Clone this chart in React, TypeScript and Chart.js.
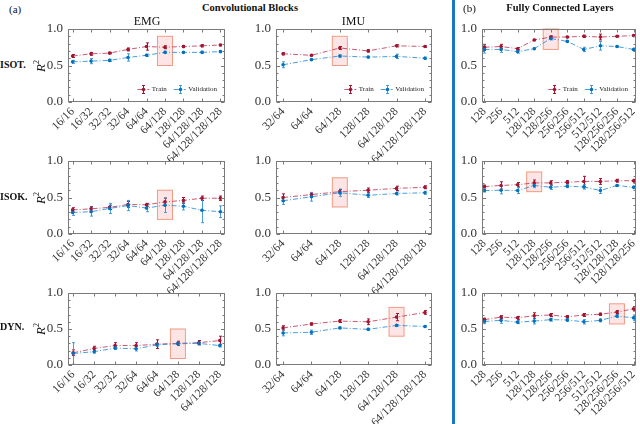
import React, { useEffect, useRef } from 'react';
import { Chart, registerables } from 'chart.js';
Chart.register(...registerables);

// ---------- categories ----------
const EMG_CATS_9 = ['16/16', '16/32', '32/32', '32/64', '64/64', '64/128', '128/128', '64/128/128', '64/128/128/128'];
const EMG_CATS_8 = ['16/16', '16/32', '32/32', '32/64', '64/64', '64/128', '128/128', '64/128/128'];
const IMU_CATS = ['32/64', '64/64', '64/128', '128/128', '64/128/128', '64/128/128/128'];
const FC_CATS_A = ['128', '256', '512', '128/128', '128/256', '256/256', '256/512', '512/512', '128/256/256', '128/256/512'];
const FC_CATS_B = ['128', '256', '512', '128/128', '128/256', '256/256', '256/512', '512/512', '128/128/128', '128/128/256'];
const Y_TICKS = [0, 0.5, 1];

// ---------- ISOT ----------
const emgIsotTrain = [0.63, 0.66, 0.67, 0.72, 0.76, 0.75, 0.76, 0.77, 0.78];
const emgIsotTrainErr = [0.02, 0.02, 0.01, 0.02, 0.05, 0.02, 0.015, 0.015, 0.01];
const emgIsotVal = [0.55, 0.56, 0.57, 0.61, 0.64, 0.68, 0.68, 0.68, 0.69];
const emgIsotValErr = [0.02, 0.035, 0.015, 0.05, 0.015, 0.015, 0.01, 0.015, 0.01];
const imuIsotTrain = [0.66, 0.64, 0.74, 0.70, 0.77, 0.76];
const imuIsotTrainErr = [0.015, 0.01, 0.02, 0.015, 0.015, 0.01];
const imuIsotVal = [0.51, 0.58, 0.63, 0.615, 0.625, 0.60];
const imuIsotValErr = [0.04, 0.01, 0.015, 0.01, 0.03, 0.015];
const fcIsotTrain = [0.75, 0.76, 0.73, 0.85, 0.89, 0.89, 0.90, 0.89, 0.90, 0.91];
const fcIsotTrainErr = [0.04, 0.03, 0.015, 0.01, 0.015, 0.01, 0.015, 0.04, 0.01, 0.015];
const fcIsotVal = [0.72, 0.72, 0.69, 0.73, 0.87, 0.83, 0.72, 0.77, 0.76, 0.72];
const fcIsotValErr = [0.05, 0.04, 0.02, 0.01, 0.02, 0.01, 0.03, 0.06, 0.01, 0.02];

// ---------- ISOK ----------
const emgIsokTrain = [0.33, 0.345, 0.365, 0.405, 0.40, 0.44, 0.46, 0.49, 0.49];
const emgIsokTrainErr = [0.03, 0.03, 0.03, 0.04, 0.02, 0.05, 0.04, 0.03, 0.03];
const emgIsokVal = [0.295, 0.305, 0.35, 0.39, 0.355, 0.395, 0.38, 0.325, 0.305];
const emgIsokValErr = [0.04, 0.06, 0.07, 0.07, 0.05, 0.1, 0.05, 0.17, 0.08];
const imuIsokTrain = [0.50, 0.54, 0.58, 0.60, 0.625, 0.64];
const imuIsokTrainErr = [0.05, 0.02, 0.03, 0.03, 0.03, 0.02];
const imuIsokVal = [0.455, 0.51, 0.565, 0.53, 0.555, 0.565];
const imuIsokValErr = [0.05, 0.06, 0.05, 0.03, 0.02, 0.02];
const fcIsokTrain = [0.65, 0.665, 0.675, 0.70, 0.70, 0.71, 0.72, 0.72, 0.73, 0.73];
const fcIsokTrainErr = [0.02, 0.05, 0.03, 0.04, 0.03, 0.02, 0.07, 0.04, 0.02, 0.02];
const fcIsokVal = [0.595, 0.60, 0.595, 0.665, 0.64, 0.655, 0.645, 0.595, 0.665, 0.64];
const fcIsokValErr = [0.02, 0.05, 0.04, 0.03, 0.03, 0.02, 0.03, 0.04, 0.01, 0.02];

// ---------- DYN ----------
const emgDynTrain = [0.17, 0.23, 0.27, 0.27, 0.29, 0.30, 0.31, 0.34];
const emgDynTrainErr = [0.04, 0.03, 0.04, 0.04, 0.06, 0.03, 0.03, 0.06];
const emgDynVal = [0.16, 0.185, 0.235, 0.225, 0.28, 0.295, 0.30, 0.27];
const emgDynValErr = [0.15, 0.02, 0.02, 0.03, 0.02, 0.02, 0.02, 0.02];
const imuDynTrain = [0.515, 0.57, 0.61, 0.60, 0.665, 0.73];
const imuDynTrainErr = [0.03, 0.015, 0.02, 0.04, 0.05, 0.025];
const imuDynVal = [0.445, 0.455, 0.515, 0.495, 0.55, 0.535];
const imuDynValErr = [0.04, 0.03, 0.01, 0.015, 0.01, 0.01];
const fcDynTrain = [0.63, 0.665, 0.655, 0.685, 0.695, 0.67, 0.695, 0.705, 0.735, 0.78];
const fcDynTrainErr = [0.02, 0.02, 0.02, 0.04, 0.02, 0.015, 0.02, 0.015, 0.02, 0.03];
const fcDynVal = [0.605, 0.62, 0.595, 0.61, 0.63, 0.625, 0.60, 0.62, 0.68, 0.655];
const fcDynValErr = [0.03, 0.04, 0.02, 0.04, 0.02, 0.02, 0.03, 0.02, 0.02, 0.04];

// highlighted configuration: [category index (1-based), yLow, yHigh]
const hlEmgIsot = [6, 0.5, 0.9];
const hlImuIsot = [3, 0.5, 0.9];
const hlFcIsot = [5, 0.72, 1.0];
const hlEmgIsok = [6, 0.2, 0.6];
const hlImuIsok = [3, 0.37, 0.77];
const hlFcIsok = [4, 0.58, 0.85];
const hlEmgDyn = [6, 0.09, 0.5];
const hlImuDyn = [5, 0.4, 0.8];
const hlFcDyn = [9, 0.57, 0.85];

const TRAIN_DARK = '#A2142F';
const TRAIN_LIGHT = 'rgba(190,60,90,0.85)';
const VAL_DARK = '#0072BD';
const VAL_LIGHT = 'rgba(40,140,215,0.85)';
const FONT = '"Liberation Serif", "DejaVu Serif", serif';

type PanelCfg = {
  cats: string[];
  train: number[]; trainErr: number[];
  val: number[]; valErr: number[];
  hl: number[];
  pad: number;
  legend: boolean;
  box: [number, number, number, number]; // left, top, right, bottom (page px)
};

const COLS = [[68, 225], [276, 432], [482, 636]];
const ROWS = [[29, 102], [161, 234], [293, 365]];

const PANELS: PanelCfg[] = [
  { cats: EMG_CATS_9, train: emgIsotTrain, trainErr: emgIsotTrainErr, val: emgIsotVal, valErr: emgIsotValErr, hl: hlEmgIsot, pad: 0.25, legend: true, box: [COLS[0][0], ROWS[0][0], COLS[0][1], ROWS[0][1]] },
  { cats: IMU_CATS, train: imuIsotTrain, trainErr: imuIsotTrainErr, val: imuIsotVal, valErr: imuIsotValErr, hl: hlImuIsot, pad: 0.25, legend: true, box: [COLS[1][0], ROWS[0][0], COLS[1][1], ROWS[0][1]] },
  { cats: FC_CATS_A, train: fcIsotTrain, trainErr: fcIsotTrainErr, val: fcIsotVal, valErr: fcIsotValErr, hl: hlFcIsot, pad: 0.15, legend: true, box: [COLS[2][0], ROWS[0][0], COLS[2][1], ROWS[0][1]] },
  { cats: EMG_CATS_9, train: emgIsokTrain, trainErr: emgIsokTrainErr, val: emgIsokVal, valErr: emgIsokValErr, hl: hlEmgIsok, pad: 0.25, legend: false, box: [COLS[0][0], ROWS[1][0], COLS[0][1], ROWS[1][1]] },
  { cats: IMU_CATS, train: imuIsokTrain, trainErr: imuIsokTrainErr, val: imuIsokVal, valErr: imuIsokValErr, hl: hlImuIsok, pad: 0.25, legend: false, box: [COLS[1][0], ROWS[1][0], COLS[1][1], ROWS[1][1]] },
  { cats: FC_CATS_B, train: fcIsokTrain, trainErr: fcIsokTrainErr, val: fcIsokVal, valErr: fcIsokValErr, hl: hlFcIsok, pad: 0.15, legend: false, box: [COLS[2][0], ROWS[1][0], COLS[2][1], ROWS[1][1]] },
  { cats: EMG_CATS_8, train: emgDynTrain, trainErr: emgDynTrainErr, val: emgDynVal, valErr: emgDynValErr, hl: hlEmgDyn, pad: 0.25, legend: false, box: [COLS[0][0], ROWS[2][0], COLS[0][1], ROWS[2][1]] },
  { cats: IMU_CATS, train: imuDynTrain, trainErr: imuDynTrainErr, val: imuDynVal, valErr: imuDynValErr, hl: hlImuDyn, pad: 0.25, legend: false, box: [COLS[1][0], ROWS[2][0], COLS[1][1], ROWS[2][1]] },
  { cats: FC_CATS_A, train: fcDynTrain, trainErr: fcDynTrainErr, val: fcDynVal, valErr: fcDynValErr, hl: hlFcDyn, pad: 0.15, legend: false, box: [COLS[2][0], ROWS[2][0], COLS[2][1], ROWS[2][1]] },
];

const PAD_L = 32, PAD_T = 8, PAD_R = 8, PAD_B = 72;
const DASH = [5, 2, 1, 2];

function makeDecor(cfg: PanelCfg) {
  return {
    id: 'decor',
    beforeDatasetsDraw(chart: any) {
      const { ctx, chartArea: a, scales } = chart;
      const xs = scales.x, ys = scales.y;
      // highlight rectangle
      const cx = xs.getPixelForValue(cfg.hl[0]);
      const y0 = ys.getPixelForValue(cfg.hl[2]);
      const y1 = ys.getPixelForValue(cfg.hl[1]);
      ctx.save();
      ctx.fillStyle = 'rgba(250,160,160,0.28)';
      ctx.strokeStyle = 'rgba(240,140,110,0.85)';
      ctx.lineWidth = 1;
      ctx.fillRect(cx - 7.5, y0, 15, y1 - y0);
      ctx.strokeRect(cx - 7.5, y0, 15, y1 - y0);
      ctx.restore();
      // error bars
      ctx.save();
      ctx.beginPath();
      ctx.rect(a.left, a.top, a.right - a.left, a.bottom - a.top);
      ctx.clip();
      const series: [number[], number[], string][] = [
        [cfg.train, cfg.trainErr, TRAIN_DARK],
        [cfg.val, cfg.valErr, VAL_LIGHT],
      ];
      for (const [vals, errs, col] of series) {
        ctx.strokeStyle = col;
        ctx.lineWidth = 1;
        vals.forEach((v, i) => {
          const x = Math.round(xs.getPixelForValue(i + 1)) + 0.5;
          const yt = ys.getPixelForValue(v + errs[i]);
          const yb = ys.getPixelForValue(v - errs[i]);
          ctx.beginPath();
          ctx.moveTo(x, yt); ctx.lineTo(x, yb);
          ctx.moveTo(x - 1.5, yt); ctx.lineTo(x + 1.5, yt);
          ctx.moveTo(x - 1.5, yb); ctx.lineTo(x + 1.5, yb);
          ctx.stroke();
        });
      }
      ctx.restore();
    },
    afterDraw(chart: any) {
      const { ctx, chartArea: a, scales } = chart;
      const xs = scales.x, ys = scales.y;
      const L = Math.round(a.left) + 0.5, R = Math.round(a.right) - 0.5;
      const T = Math.round(a.top) + 0.5, B = Math.round(a.bottom) - 0.5;
      ctx.save();
      ctx.strokeStyle = '#7a7a7a';
      ctx.lineWidth = 1;
      ctx.strokeRect(L, T, R - L, B - T);
      ctx.beginPath();
      for (let k = 0; k <= 10; k++) {
        const y = Math.round(ys.getPixelForValue(k / 10)) + 0.5;
        const len = k % 5 === 0 ? 3.5 : 2;
        ctx.moveTo(L, y); ctx.lineTo(L + len, y);
        ctx.moveTo(R, y); ctx.lineTo(R - len, y);
      }
      cfg.cats.forEach((_, i) => {
        const x = Math.round(xs.getPixelForValue(i + 1)) + 0.5;
        ctx.moveTo(x, B); ctx.lineTo(x, B - 3);
        ctx.moveTo(x, T); ctx.lineTo(x, T + 3);
      });
      ctx.stroke();
      ctx.restore();

      if (cfg.legend) {
        ctx.save();
        ctx.font = `7px ${FONT}`;
        ctx.textBaseline = 'middle';
        ctx.fillStyle = '#222';
        const y = a.bottom - 12.5;
        const wv = ctx.measureText('Validation').width;
        const wt = ctx.measureText('Train').width;
        const sampleW = 12;
        const xTextV = a.right - 8 - wv;
        const xSampV = xTextV - 2.5 - sampleW;
        const xTextT = xSampV - 7 - wt;
        const xSampT = xTextT - 2.5 - sampleW;
        const drawSample = (x0: number, line: string, dark: string, bar: string) => {
          ctx.strokeStyle = line;
          ctx.lineWidth = 1;
          ctx.setLineDash(DASH);
          ctx.beginPath();
          ctx.moveTo(x0, y); ctx.lineTo(x0 + sampleW, y);
          ctx.stroke();
          ctx.setLineDash([]);
          const cx = Math.round(x0 + sampleW / 2) + 0.5;
          ctx.strokeStyle = bar;
          ctx.beginPath();
          ctx.moveTo(cx, y - 4); ctx.lineTo(cx, y + 4);
          ctx.moveTo(cx - 1.5, y - 4); ctx.lineTo(cx + 1.5, y - 4);
          ctx.moveTo(cx - 1.5, y + 4); ctx.lineTo(cx + 1.5, y + 4);
          ctx.stroke();
          ctx.fillStyle = dark;
          ctx.beginPath();
          ctx.arc(cx, y, 1.8, 0, Math.PI * 2);
          ctx.fill();
        };
        drawSample(xSampT, TRAIN_LIGHT, TRAIN_DARK, TRAIN_DARK);
        drawSample(xSampV, VAL_LIGHT, VAL_DARK, VAL_LIGHT);
        ctx.fillStyle = '#222';
        ctx.fillText('Train', xTextT, y);
        ctx.fillText('Validation', xTextV, y);
        ctx.restore();
      }
    },
  };
}

function Panel({ cfg }: { cfg: PanelCfg }) {
  const ref = useRef<HTMLCanvasElement>(null);
  const [bl, bt, br, bb] = cfg.box;
  const W = br - bl + PAD_L + PAD_R;
  const H = bb - bt + PAD_T + PAD_B;
  useEffect(() => {
    const n = cfg.cats.length;
    const chart = new Chart(ref.current!, {
      type: 'line',
      data: {
        datasets: [
          {
            label: 'Validation',
            data: cfg.val.map((v, i) => ({ x: i + 1, y: v })),
            borderColor: VAL_LIGHT,
            borderWidth: 1,
            borderDash: DASH,
            pointRadius: 1.8,
            pointBackgroundColor: VAL_DARK,
            pointBorderWidth: 0,
            tension: 0,
            clip: false as any,
          },
          {
            label: 'Train',
            data: cfg.train.map((v, i) => ({ x: i + 1, y: v })),
            borderColor: TRAIN_LIGHT,
            borderWidth: 1,
            borderDash: DASH,
            pointRadius: 1.8,
            pointBackgroundColor: TRAIN_DARK,
            pointBorderWidth: 0,
            tension: 0,
            clip: false as any,
          },
        ],
      },
      options: {
        responsive: false,
        animation: false,
        events: [],
        layout: { padding: { top: PAD_T, right: PAD_R, left: 0, bottom: 0 } },
        plugins: { legend: { display: false }, tooltip: { enabled: false } },
        scales: {
          x: {
            type: 'linear',
            min: 1 - cfg.pad,
            max: n + cfg.pad,
            grid: { display: false, drawTicks: false },
            border: { display: false },
            afterBuildTicks: (axis: any) => {
              axis.ticks = cfg.cats.map((_, i) => ({ value: i + 1 }));
            },
            afterFit: (axis: any) => {
              axis.height = PAD_B;
              axis.paddingLeft = 0;
              axis.paddingRight = 0;
            },
            ticks: {
              autoSkip: false,
              minRotation: 45,
              maxRotation: 45,
              padding: 3,
              color: '#333',
              font: { family: FONT, size: 11.5 },
              callback: (_v: any, idx: number) => cfg.cats[idx],
            },
          },
          y: {
            type: 'linear',
            min: 0,
            max: 1,
            grid: { display: false, drawTicks: false },
            border: { display: false },
            afterBuildTicks: (axis: any) => {
              axis.ticks = Y_TICKS.map((v) => ({ value: v }));
            },
            afterFit: (axis: any) => {
              axis.width = PAD_L;
              axis.paddingTop = 0;
              axis.paddingBottom = 0;
            },
            ticks: {
              padding: 5,
              color: '#333',
              font: { family: FONT, size: 13 },
              callback: (v: any) => Number(v).toFixed(1),
            },
          },
        },
      },
      plugins: [makeDecor(cfg)],
    });
    return () => chart.destroy();
  }, []);
  return (
    <canvas
      ref={ref}
      width={W}
      height={H}
      style={{ position: 'absolute', left: bl - PAD_L, top: bt - PAD_T, width: W, height: H }}
    />
  );
}

function Txt({ x, y, children, size = 11, bold = false, center = true }: any) {
  return (
    <div
      style={{
        position: 'absolute',
        left: x,
        top: y,
        transform: center ? 'translate(-50%, -50%)' : 'translateY(-50%)',
        fontFamily: FONT,
        fontSize: size,
        fontWeight: bold ? 'bold' : 'normal',
        lineHeight: 1,
        whiteSpace: 'nowrap',
        color: '#111',
      }}
    >
      {children}
    </div>
  );
}

function RLabel({ y }: { y: number }) {
  return (
    <div
      style={{
        position: 'absolute',
        left: 40,
        top: y,
        transform: 'translate(-50%, -50%) rotate(-90deg)',
        fontFamily: FONT,
        fontSize: 13,
        lineHeight: 1,
        whiteSpace: 'nowrap',
        color: '#111',
      }}
    >
      <i>R</i>
      <sup style={{ fontSize: 8 }}>2</sup>
    </div>
  );
}

export default function App() {
  return (
    <div style={{ position: 'fixed', left: 0, top: 0, width: 640, height: 424, background: '#fff', overflow: 'hidden' }}>
      {PANELS.map((p, i) => (
        <Panel key={i} cfg={p} />
      ))}
      <div style={{ position: 'absolute', left: 452, top: 0, width: 3, height: 424, background: '#1a78c2' }} />
      <Txt x={9} y={9} size={11} center={false}>(a)</Txt>
      <Txt x={250} y={8} size={10.5} bold>Convolutional Blocks</Txt>
      <Txt x={147} y={21} size={12}>EMG</Txt>
      <Txt x={353.5} y={21} size={12}>IMU</Txt>
      <Txt x={463} y={8} size={11} center={false}>(b)</Txt>
      <Txt x={560} y={8} size={10.5} bold>Fully Connected Layers</Txt>
      <Txt x={0} y={65} size={10} bold center={false}>ISOT.</Txt>
      <Txt x={0} y={197} size={10} bold center={false}>ISOK.</Txt>
      <Txt x={0} y={327} size={10} bold center={false}>DYN.</Txt>
      <RLabel y={66} />
      <RLabel y={198} />
      <RLabel y={329} />
    </div>
  );
}
